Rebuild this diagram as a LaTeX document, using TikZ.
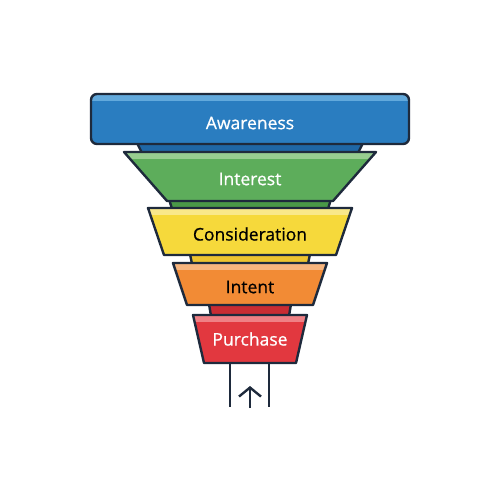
\documentclass[tikz,border=0pt]{standalone}
\usepackage{fontspec}
\setmainfont{Open Sans}
\newfontfamily\stagefont[FakeBold=0.7]{Open Sans}
\usetikzlibrary{arrows.meta}

\definecolor{funnelline}{HTML}{1E2A3C}
\definecolor{awblue}{HTML}{2A7DC0}
\definecolor{awlight}{HTML}{62A9DC}
\definecolor{awneck}{HTML}{1F67A6}
\definecolor{ingreen}{HTML}{5DAD5B}
\definecolor{inlight}{HTML}{97CD90}
\definecolor{inneck}{HTML}{4A9847}
\definecolor{coyellow}{HTML}{F6D93B}
\definecolor{colight}{HTML}{F9E88A}
\definecolor{coneck}{HTML}{EDC430}
\definecolor{itorange}{HTML}{F28B35}
\definecolor{itlight}{HTML}{F7B57E}
\definecolor{puneck}{HTML}{C92C33}
\definecolor{pured}{HTML}{E2383F}
\definecolor{pulight}{HTML}{EF8085}

\begin{document}
\begin{tikzpicture}[x=1pt,y=-1pt,
    outline/.style={draw=funnelline,line width=2.4pt,line join=round},
    label/.style={font=\stagefont\fontsize{17.5}{20}\selectfont}]
  \useasboundingbox (0,0) rectangle (500,500);

  % necks between the stages
  \foreach \ty/\by/\tw/\bw/\col in {143/153/113/108/awneck,
                                     199/209/81/78/inneck,
                                     254/264/60/58/coneck,
                                     304/316/41/39/puneck}
    \filldraw[fill=\col,outline] (250-\tw,\ty) -- (250+\tw,\ty) -- (250+\bw,\by) -- (250-\bw,\by) -- cycle;

  % top stage
  \fill[awblue,rounded corners=6pt] (91,94) rectangle (409,144);
  \begin{scope}
    \clip[rounded corners=6pt] (91,94) rectangle (409,144);
    \fill[awlight] (91,94) rectangle (409,101);
  \end{scope}
  \draw[outline,rounded corners=6pt] (91,94) rectangle (409,144);
  \node[label,text=white] (awareness) at (250,123) {Awareness};

  % lower stages
  \foreach \ty/\by/\tw/\bw/\col/\lt/\ly/\tc/\nm/\txt in {
      152/201/126/83/ingreen/inlight/179/white/interest/Interest,
      208/255/102/86/coyellow/colight/234/black/consideration/Consideration,
      263/305/77/63/itorange/itlight/287/black/intent/Intent,
      315/363/57/46/pured/pulight/339/white/purchase/Purchase}
  {
    \fill[\col] (250-\tw,\ty) -- (250+\tw,\ty) -- (250+\bw,\by) -- (250-\bw,\by) -- cycle;
    \begin{scope}
      \clip (250-\tw,\ty) -- (250+\tw,\ty) -- (250+\bw,\by) -- (250-\bw,\by) -- cycle;
      \fill[\lt] (0,\ty) rectangle (500,\ty+7);
    \end{scope}
    \draw[outline] (250-\tw,\ty) -- (250+\tw,\ty) -- (250+\bw,\by) -- (250-\bw,\by) -- cycle;
    \node[label,text=\tc] (\nm) at (250,\ly) {\txt};
  }

  % exit pipe and arrow
  \coordinate (pipeleft) at (230,363);
  \coordinate (piperight) at (269,363);
  \coordinate (arrowtail) at (250,408);
  \coordinate (arrowhead) at (250,386);
  \draw[outline] (pipeleft) -- ++(0,44);
  \draw[outline] (piperight) -- ++(0,44);
  \draw[outline,-{Straight Barb[length=9pt,width=22pt]}] (arrowtail) -- (arrowhead);
\end{tikzpicture}
\end{document}
